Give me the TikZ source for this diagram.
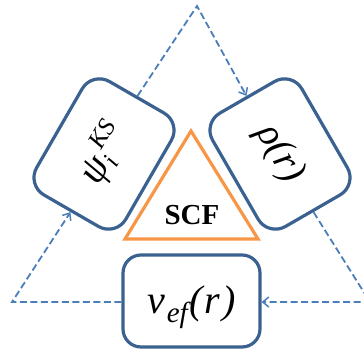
\documentclass[tikz,border=0pt]{standalone}
\usepackage{fontspec}
\setmainfont{Liberation Serif}
\usetikzlibrary{arrows.meta,calc}
\definecolor{boxblue}{HTML}{3A6190}
\definecolor{dashblue}{HTML}{4A7EBB}
\definecolor{scforange}{HTML}{F79646}
\begin{document}
\begin{tikzpicture}[x=1pt,y=1pt,
  kbox/.style={draw=boxblue, line width=3.2pt, rounded corners=20pt,
    minimum width=131pt, minimum height=103pt, inner sep=0pt, fill=white},
  flow/.style={draw=dashblue, line width=1.8pt, dash pattern=on 7pt off 3.5pt},
  tip/.style={-{Straight Barb[length=6pt,width=10pt,line width=1.5pt]}},
  scftri/.style={draw=scforange, line width=3.2pt, line join=miter}]
\useasboundingbox (0,0) rectangle (364,349);
\node[kbox, rotate=60] (psi) at (104,195)
  {\fontsize{40}{40}\selectfont\itshape ψ\raisebox{-7pt}{\fontsize{25}{25}\selectfont i}\kern1pt\raisebox{15pt}{\fontsize{25}{25}\selectfont KS}};
\node[kbox, rotate=-60] (rho) at (280,195)
  {\fontsize{39}{39}\selectfont\itshape ρ(r)};
\node[kbox, minimum width=137pt, minimum height=92pt, rounded corners=18pt] (vef) at (191.5,48)
  {\raisebox{-12pt}[0pt][0pt]{\fontsize{40}{40}\selectfont\itshape v\kern2pt\raisebox{-9pt}{\fontsize{29}{29}\selectfont ef}\kern2pt(\kern1pt r\kern3pt)}};
\coordinate (apex) at (197,343);
\coordinate (br) at (370,47);
\coordinate (bl) at (12,47);
\coordinate (t1) at (191,218);
\coordinate (t2) at (125,110);
\coordinate (t3) at (258,110);
\draw[scftri] (t1) -- (t2) -- (t3) -- cycle;
\node (scf) at (192,134) {\fontsize{29}{29}\selectfont\bfseries SCF};
\draw[flow, tip] (psi.east) -- (apex) -- (rho.west);
\draw[flow, tip] (rho.east) -- (br) -- (br -| vef.east);
\draw[flow, tip] (vef.west |- bl) -- (bl) -- (psi.west);
\end{tikzpicture}
\end{document}
